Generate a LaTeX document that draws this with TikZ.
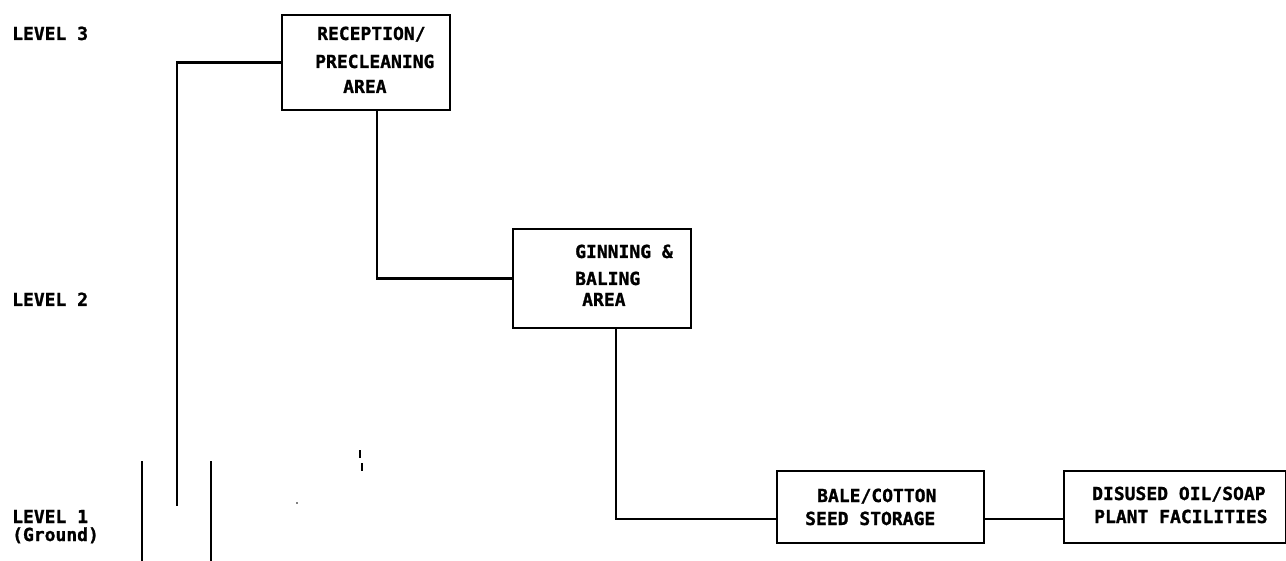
\documentclass[tikz,border=0pt]{standalone}
\usepackage{fontspec}
\setmonofont[BoldFeatures={FakeBold=1.2}]{DejaVu Sans Mono}
\begin{document}
\begin{tikzpicture}[x=1pt,y=-1pt,
  box/.style={draw,line width=2.2pt,anchor=north west,inner sep=0pt},
  txt/.style={font=\ttfamily\bfseries\fontsize{18}{22}\selectfont,anchor=base west,inner sep=0pt},
  wire/.style={line width=2.2pt}]
\useasboundingbox (0,0) rectangle (1286,561);
% boxes
\node[box,minimum width=168pt,minimum height=95pt] (rec) at (281,14) {};
\node[box,minimum width=178pt,minimum height=99pt] (gin) at (512,228) {};
\node[box,minimum width=207pt,minimum height=72pt] (bale) at (776,470) {};
\node[box,minimum width=222pt,minimum height=72pt] (dis) at (1063,470) {};
% level labels
\node[txt] (l3) at (12,40) {LEVEL 3};
\node[txt] (l2) at (12,306) {LEVEL 2};
\node[txt] (l1) at (12,523) {LEVEL 1};
\node[txt] (gr) at (12,541) {(Ground)};
% box texts
\node[txt] (rec1) at (317,40) {RECEPTION/};
\node[txt] (rec2) at (315,68) {PRECLEANING};
\node[txt] (rec3) at (343,93) {AREA};
\node[txt] (gin1) at (575,258) {GINNING \&};
\node[txt] (gin2) at (575,285) {BALING};
\node[txt] (gin3) at (582,306) {AREA};
\node[txt] (bal1) at (817,502) {BALE/COTTON};
\node[txt] (bal2) at (805,525) {SEED STORAGE};
\node[txt] (dis1) at (1092,500) {DISUSED OIL/SOAP};
\node[txt] (dis2) at (1094,523) {PLANT FACILITIES};
% connectors
\coordinate (c1) at (177,506);
\draw[wire] (rec.west) -| (c1);
\draw[wire] ([xshift=11pt]rec.south) |- (gin.west);
\draw[wire] ([xshift=14pt]gin.south) |- ([yshift=-12pt]bale.west);
\draw[wire] ([yshift=-12pt]bale.east) -- ([yshift=-12pt]dis.west);
% ground lines
\coordinate (g1t) at (142,461);
\coordinate (g1b) at (142,561);
\coordinate (g2t) at (211,461);
\coordinate (g2b) at (211,561);
\draw[wire] (g1t) -- (g1b);
\draw[wire] (g2t) -- (g2b);
% small marks
\draw[line width=2.5pt] (360,450) -- (360,458);
\draw[line width=2.5pt] (362,463) -- (362,471);
\fill (297,503) circle (0.8);
\end{tikzpicture}
\end{document}
